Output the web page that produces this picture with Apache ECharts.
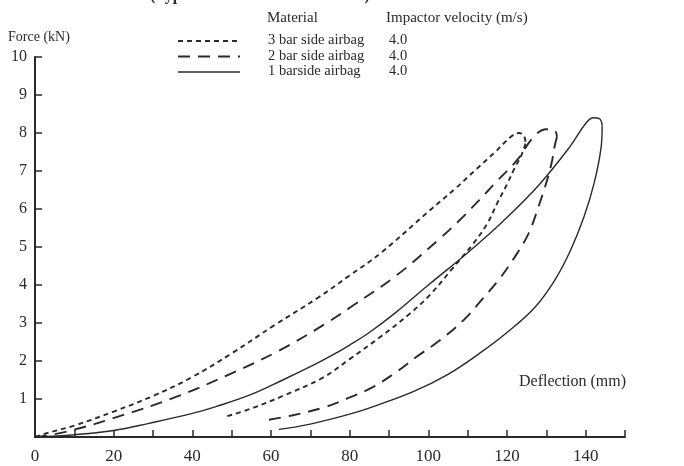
<!DOCTYPE html>
<html>
<head>
<meta charset="utf-8">
<script src="https://cdn.jsdelivr.net/npm/echarts@6/dist/echarts.min.js"></script>
<style>
    html,body{margin:0;padding:0;background:#fff;}
    #chart{width:684px;height:466px;}
</style>
</head>
<body>
<div id="chart"></div>
<script>
    // 3 bar side airbag, loading branch then unloading branch
    const bar3LoadX = [0, 3, 10, 20, 30, 40, 50, 61, 72, 80, 88, 100, 107, 112, 117, 121, 123, 124.3, 124.7]
    const bar3LoadY = [0, 0.1, 0.3, 0.67, 1.08, 1.58, 2.2, 2.95, 3.67, 4.25, 4.85, 5.93, 6.55, 7.03, 7.5, 7.9, 8.0, 7.93, 7.72]
    const bar3UnloadX = [124.7, 123.6, 121.8, 120, 117.5, 115, 111.5, 106, 100.5, 95, 88, 80, 73, 63, 55, 48]
    const bar3UnloadY = [7.72, 7.4, 7.05, 6.65, 6.15, 5.62, 5.1, 4.42, 3.75, 3.22, 2.65, 2.05, 1.55, 1.08, 0.75, 0.52]

    // 2 bar side airbag
    const bar2LoadX = [0, 8, 22.5, 36, 49, 62, 74, 80, 92, 103, 108, 113, 117.5, 122.6, 126.8, 130, 132.2, 132.7]
    const bar2LoadY = [0, 0.14, 0.58, 1.06, 1.63, 2.27, 2.99, 3.4, 4.26, 5.23, 5.71, 6.24, 6.74, 7.29, 7.9, 8.1, 8.05, 7.9]
    const bar2UnloadX = [132.7, 131.9, 131.5, 130.2, 128, 125.5, 122, 118, 113.5, 109, 103, 97, 92, 86, 79.5, 73.5, 65, 58]
    const bar2UnloadY = [7.9, 7.55, 7.29, 6.76, 6.06, 5.36, 4.74, 4.15, 3.6, 3.08, 2.55, 2.11, 1.72, 1.32, 1.02, 0.78, 0.56, 0.43]

    // 1 bar side airbag
    const bar1LoadX = [0, 10, 20, 29, 40, 46, 55, 63, 70, 75, 80, 85, 92, 100, 110, 119, 128, 136, 140, 142, 143.5, 144.2]
    const bar1LoadY = [0, 0.06, 0.17, 0.36, 0.62, 0.8, 1.12, 1.5, 1.85, 2.12, 2.42, 2.75, 3.3, 4.0, 4.85, 5.68, 6.62, 7.64, 8.25, 8.4, 8.38, 8.2]
    const bar1UnloadX = [144.2, 143.9, 142.2, 139.6, 136.1, 132, 127, 120, 113, 105, 96.3, 86, 80, 70, 62]
    const bar1UnloadY = [8.2, 7.6, 6.7, 5.8, 4.9, 4.1, 3.4, 2.75, 2.2, 1.65, 1.2, 0.8, 0.6, 0.34, 0.2]

    const materials = ['3 bar side airbag', '2 bar side airbag', '1 barside airbag']
    const velocities = ['4.0', '4.0', '4.0']
    const xTicks = [0, 20, 40, 60, 80, 100, 120, 140]
    const yTicks = [1, 2, 3, 4, 5, 6, 7, 8, 9, 10]

    const font = 'Liberation Serif'
    const ink = '#2a2a2a'
    const dashes = [[5, 4], [12, 8], 'solid']
    const widths = [1.9, 1.9, 1.4]

    const pairs = (xs, ys) => xs.map((x, i) => [x, ys[i]])
    const curves = [
        [pairs(bar3LoadX, bar3LoadY), pairs(bar3UnloadX, bar3UnloadY)],
        [pairs(bar2LoadX, bar2LoadY), pairs(bar2UnloadX, bar2UnloadY)],
        [pairs(bar1LoadX, bar1LoadY), pairs(bar1UnloadX, bar1UnloadY)]
    ]

    const chart = echarts.init(document.getElementById('chart'))

    // legend block drawn by hand (two text columns like the original)
    const legendGraphics = []
    legendGraphics.push({type: 'text', left: 267, top: 11, style: {text: 'Material', font: '15px ' + font, fill: ink}})
    legendGraphics.push({type: 'text', left: 386, top: 11, style: {text: 'Impactor velocity (m/s)', font: '15px ' + font, fill: ink}})
    materials.forEach((name, i) => {
        const y = 41 + i * 15.5
        legendGraphics.push({
            type: 'line',
            shape: {x1: 178, y1: y, x2: 240, y2: y},
            style: {stroke: ink, lineWidth: widths[i], lineDash: dashes[i] === 'solid' ? null : dashes[i]}
        })
        legendGraphics.push({type: 'text', left: 268, top: y - 8, style: {text: name, font: '14.5px ' + font, fill: ink}})
        legendGraphics.push({type: 'text', left: 389, top: y - 8, style: {text: velocities[i], font: '14.5px ' + font, fill: ink}})
    })

    const series = []
    curves.forEach((branches, i) => {
        branches.forEach(data => {
            series.push({
                name: materials[i],
                type: 'line',
                data: data,
                smooth: 0.4,
                showSymbol: false,
                lineStyle: {color: ink, width: widths[i], type: dashes[i]}
            })
        })
    })

    const option = {
        animation: false,
        backgroundColor: '#fff',
        grid: {left: 35, right: 59, top: 57, bottom: 29},
        xAxis: {
            type: 'value',
            min: 0,
            max: 150,
            interval: 10,
            axisLine: {lineStyle: {color: ink, width: 2}},
            axisTick: {inside: true, length: 7, lineStyle: {color: ink, width: 1.5}},
            splitLine: {show: false},
            axisLabel: {
                margin: 11,
                fontFamily: font,
                fontSize: 17,
                color: ink,
                formatter: v => xTicks.includes(v) ? String(v) : ''
            }
        },
        yAxis: {
            type: 'value',
            min: 0,
            max: 10,
            interval: 1,
            axisLine: {show: true, lineStyle: {color: ink, width: 2}},
            axisTick: {show: true, inside: true, length: 7, lineStyle: {color: ink, width: 1.5}},
            splitLine: {show: false},
            axisLabel: {
                margin: 8,
                fontFamily: font,
                fontSize: 16,
                color: ink,
                formatter: v => yTicks.includes(v) ? String(v) : ''
            }
        },
        graphic: [
            {type: 'text', left: 150, top: -12, style: {text: '(Typical force-deflection curves)', font: 'bold 16px ' + font, fill: ink}},
            {type: 'text', left: 8, top: 30, style: {text: 'Force (kN)', font: '14px ' + font, fill: ink}},
            {type: 'text', left: 519, top: 374, style: {text: 'Deflection (mm)', font: '16px ' + font, fill: ink}},
            ...legendGraphics
        ],
        series: series
    }

    chart.setOption(option)
</script>
</body>
</html>
